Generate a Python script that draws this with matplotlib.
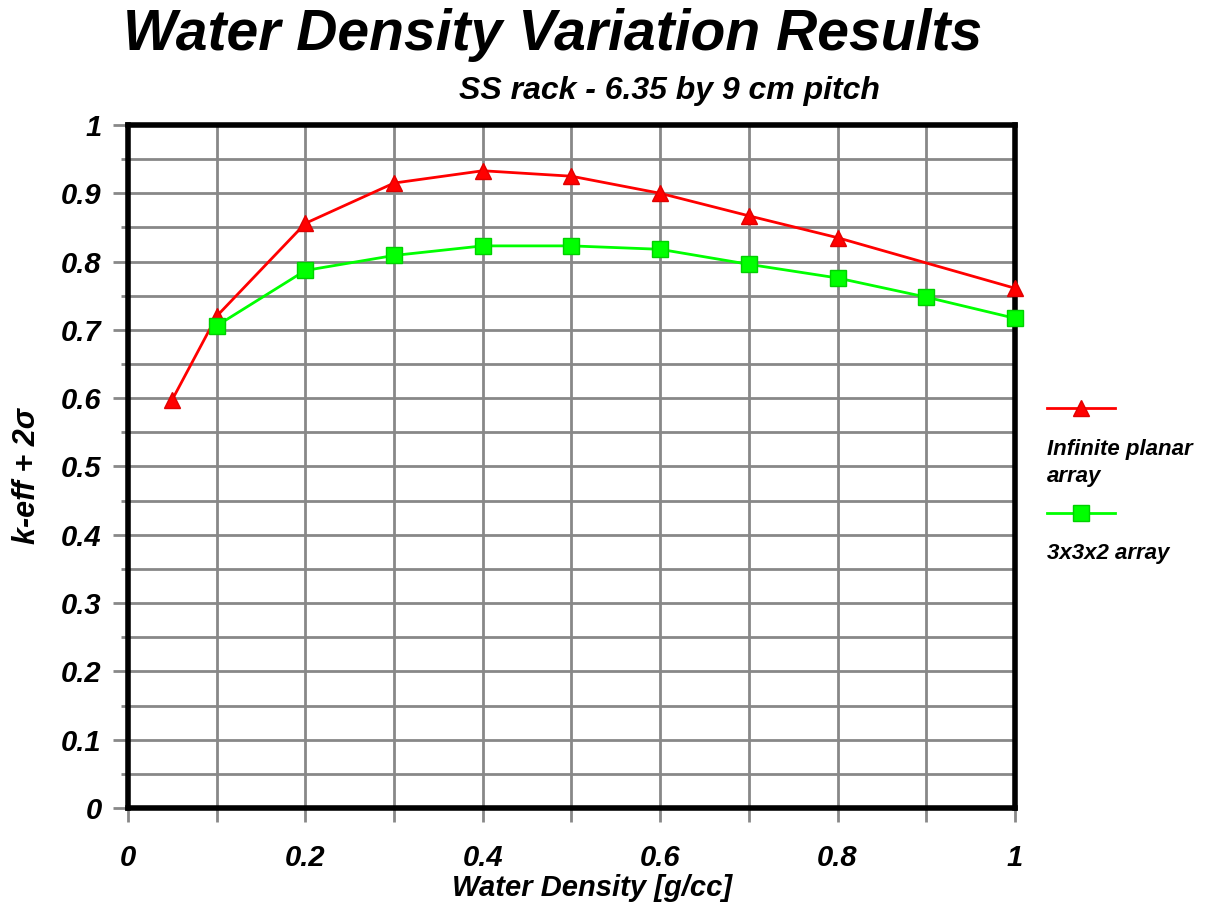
import matplotlib
matplotlib.use('Agg')
import matplotlib.pyplot as plt
from matplotlib.lines import Line2D
from matplotlib.ticker import MultipleLocator

# Data
density_planar = [0.05, 0.1, 0.2, 0.3, 0.4, 0.5, 0.6, 0.7, 0.8, 1.0]
keff_planar = [0.598, 0.720, 0.856, 0.915, 0.933, 0.925, 0.900, 0.867, 0.835, 0.761]
density_array = [0.1, 0.2, 0.3, 0.4, 0.5, 0.6, 0.7, 0.8, 0.9, 1.0]
keff_array = [0.706, 0.787, 0.809, 0.823, 0.823, 0.818, 0.796, 0.776, 0.748, 0.717]
series_labels = ['Infinite planar\narray', '3x3x2 array']

FONT = 'Liberation Sans'
plt.rcParams['font.family'] = [FONT, 'DejaVu Sans']
plt.rcParams['font.weight'] = 'bold'
plt.rcParams['font.style'] = 'italic'
plt.rcParams['axes.labelweight'] = 'bold'

fig = plt.figure(figsize=(12.28, 9.09), dpi=100)
ax = fig.add_axes([0.1042, 0.1111, 0.7223, 0.7514])

ax.plot(density_planar, keff_planar, color='#ff0000', lw=2, marker='^',
        ms=12, mfc='#ff0000', mec='#e00000', zorder=5, clip_on=False)
ax.plot(density_array, keff_array, color='#00ff00', lw=2, marker='s',
        ms=11, mfc='#00ff00', mec='#00d000', zorder=5, clip_on=False)

ax.set_xlim(0, 1)
ax.set_ylim(0, 1)
ax.xaxis.set_major_locator(MultipleLocator(0.2))
ax.xaxis.set_minor_locator(MultipleLocator(0.1))
ax.yaxis.set_major_locator(MultipleLocator(0.1))
ax.yaxis.set_minor_locator(MultipleLocator(0.05))
ax.xaxis.set_major_formatter(plt.FuncFormatter(lambda v, p: '%g' % round(v, 2)))
ax.yaxis.set_major_formatter(plt.FuncFormatter(lambda v, p: '%g' % round(v, 2)))

ax.grid(which='both', color='#888888', lw=2, zorder=1)
ax.tick_params(axis='x', which='both', length=10, width=2, color='#888888',
               pad=16, labelsize=21)
ax.tick_params(axis='y', which='major', length=11, width=2, color='#888888',
               pad=8, labelsize=21)
ax.tick_params(axis='y', which='minor', length=5, width=2, color='#888888')
for lab in ax.get_xticklabels() + ax.get_yticklabels():
    lab.set_fontweight('bold')
    lab.set_fontstyle('italic')
for sp in ax.spines.values():
    sp.set_linewidth(4)
    sp.set_color('black')
    sp.set_zorder(4)

ax.set_xlabel('Water Density [g/cc]', fontsize=21, fontweight='bold')
ax.set_ylabel('k-eff + 2σ', fontsize=22, fontweight='bold')
ax.xaxis.set_label_coords(0.523, -0.097)
ax.yaxis.set_label_coords(-0.097, 0.486)

fig.text(0.45, 0.9615, 'Water Density Variation Results', ha='center',
         va='center', fontsize=41)
fig.text(0.545, 0.900, 'SS rack - 6.35 by 9 cm pitch', ha='center',
         va='center', fontsize=23)

# legend drawn like the original: sample line on top, label below
W, H = 1228.0, 909.0
legend_items = [
    (408, 463, '#ff0000', '#e00000', '^', 12, series_labels[0]),
    (513, 553, '#00ff00', '#00d000', 's', 11, series_labels[1]),
]
for ly, ty, c, ec, m, ms, lab in legend_items:
    fig.add_artist(Line2D([1047 / W, 1115 / W], [1 - ly / H, 1 - ly / H],
                          color=c, lw=2, transform=fig.transFigure))
    fig.add_artist(Line2D([1081 / W], [1 - ly / H], color=c, marker=m, ms=ms,
                          mfc=c, mec=ec, transform=fig.transFigure))
    fig.text(1047 / W, 1 - ty / H, lab, ha='left', va='center', fontsize=16,
             linespacing=1.4)

fig.savefig('out.png', dpi=100)
